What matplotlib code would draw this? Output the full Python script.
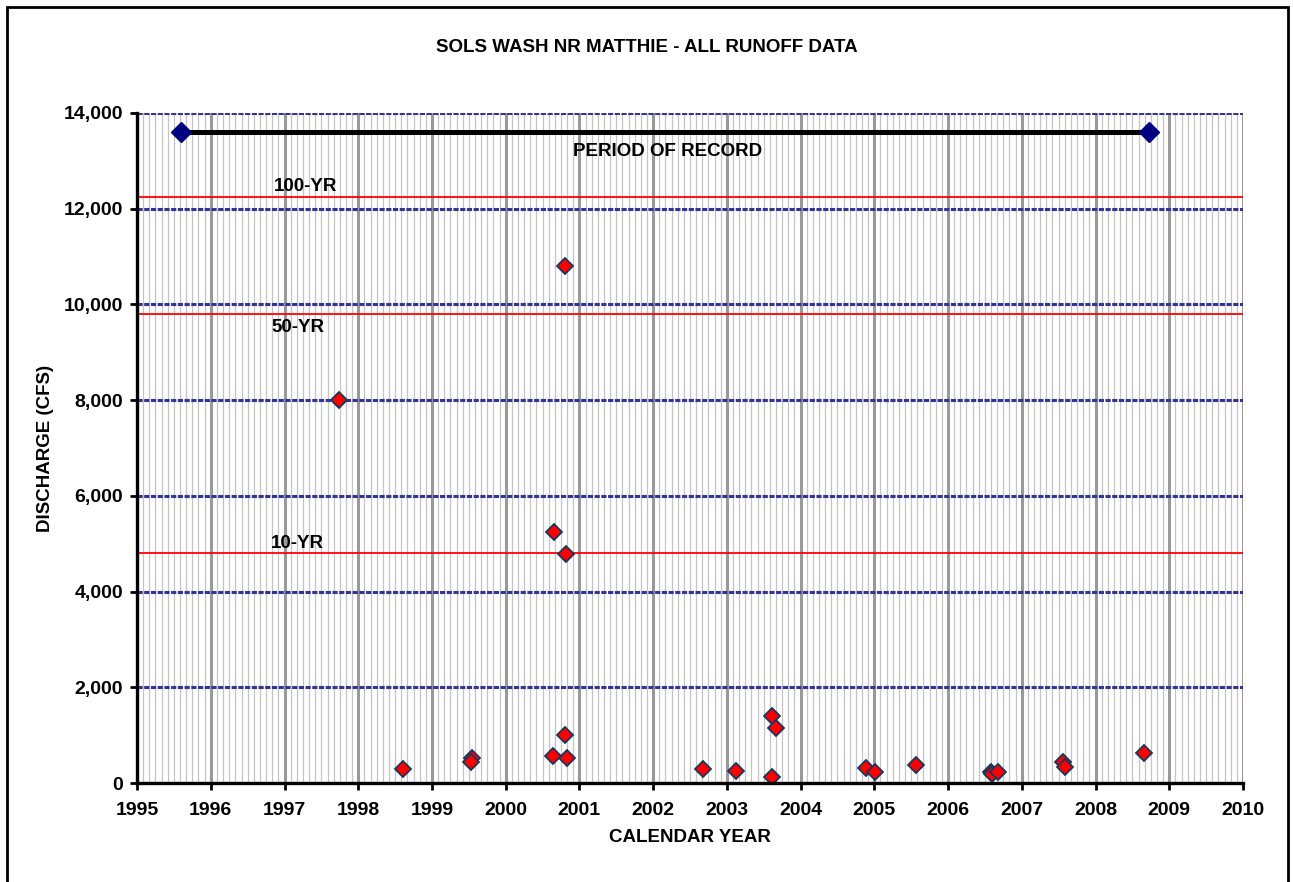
import matplotlib.pyplot as plt
from matplotlib.patches import Rectangle
from matplotlib.ticker import FuncFormatter, MultipleLocator

plt.rcParams['font.family'] = ['Liberation Sans', 'DejaVu Sans']
plt.rcParams['font.weight'] = 'bold'

# Runoff events (decimal year, discharge in cfs)
event_year = [1997.74, 1998.61, 1999.54, 1999.53, 2000.64, 2000.80, 2000.83,
              2000.80, 2000.65, 2000.82, 2002.68, 2003.12, 2003.61, 2003.67,
              2003.61, 2004.89, 2005.01, 2005.57, 2006.58, 2006.60, 2006.68,
              2007.56, 2007.58, 2008.66]
event_cfs = [8000, 290, 520, 450, 560, 1000, 520,
             10800, 5250, 4780, 300, 250, 1400, 1140,
             120, 320, 230, 370, 230, 190, 240,
             450, 340, 630]

# Flood frequency levels
return_labels = ['100-YR', '50-YR', '10-YR']
return_cfs = [12250, 9800, 4800]

# Period of record
record_years = [1995.6, 2008.73]
record_cfs = [13600, 13600]

fig = plt.figure(figsize=(12.93, 8.82), dpi=100)
ax = fig.add_axes([0.106, 0.1122, 0.8553, 0.7597])

ax.set_xlim(1995, 2010)
ax.set_ylim(0, 14000)

# grid
ax.xaxis.set_major_locator(MultipleLocator(1))
ax.xaxis.set_minor_locator(MultipleLocator(1 / 12))
ax.yaxis.set_major_locator(MultipleLocator(2000))
ax.grid(which='minor', axis='x', color='#c4c4c4', linewidth=0.9)
ax.grid(which='major', axis='x', color='#999999', linewidth=2.2)
ax.grid(which='major', axis='y', color='#333399', linewidth=2.2,
        linestyle=(0, (1.7, 0.5)))
ax.set_axisbelow(True)

for lbl, val in zip(return_labels, return_cfs):
    ax.axhline(val, color='#ff0000', linewidth=1.3, zorder=2)

ax.plot(record_years, record_cfs, color='black', linewidth=3.6, zorder=3)
ax.plot(record_years, record_cfs, linestyle='none', marker='D', markersize=10,
        color='#000080', zorder=4)

ax.plot(event_year, event_cfs, linestyle='none', marker='D', markersize=8.5,
        markerfacecolor='#ff0000', markeredgecolor='#17375e',
        markeredgewidth=1.3, zorder=5)

ax.text(2002.19, 13205, 'PERIOD OF RECORD', ha='center', va='center',
        fontsize=13.5, fontweight='bold')
label_pos = [(1997.28, 12474), (1997.18, 9528), (1997.18, 5015)]
for lbl, (x, y) in zip(return_labels, label_pos):
    ax.text(x, y, lbl, ha='center', va='center', fontsize=13.5,
            fontweight='bold')

for side in ['top', 'right']:
    ax.spines[side].set_visible(False)
for side in ['left', 'bottom']:
    ax.spines[side].set_linewidth(2.4)
    ax.spines[side].set_zorder(6)

ax.yaxis.set_major_formatter(FuncFormatter(lambda v, p: f'{int(v):,}'))
ax.tick_params(which='major', direction='out', length=5, width=2,
               labelsize=14)
ax.tick_params(axis='x', pad=9)
ax.tick_params(axis='y', pad=5)
ax.tick_params(which='minor', length=0)
for t in ax.get_xticklabels() + ax.get_yticklabels():
    t.set_fontweight('bold')

fig.text(0.5003, 0.9467, 'SOLS WASH NR MATTHIE - ALL RUNOFF DATA',
         ha='center', va='center', fontsize=13.5, fontweight='bold')
fig.text(0.5337, 0.050, 'CALENDAR YEAR', ha='center', va='center',
         fontsize=13.5, fontweight='bold')
fig.text(0.035, 0.492, 'DISCHARGE (CFS)', ha='center', va='center',
         rotation=90, fontsize=13.5, fontweight='bold')

fig.patches.append(Rectangle((7 / 1293, -0.05), 1281 / 1293, 1.05 - 7 / 882,
                             transform=fig.transFigure, fill=False,
                             edgecolor='black', linewidth=2))

fig.savefig('out.png', dpi=100)
